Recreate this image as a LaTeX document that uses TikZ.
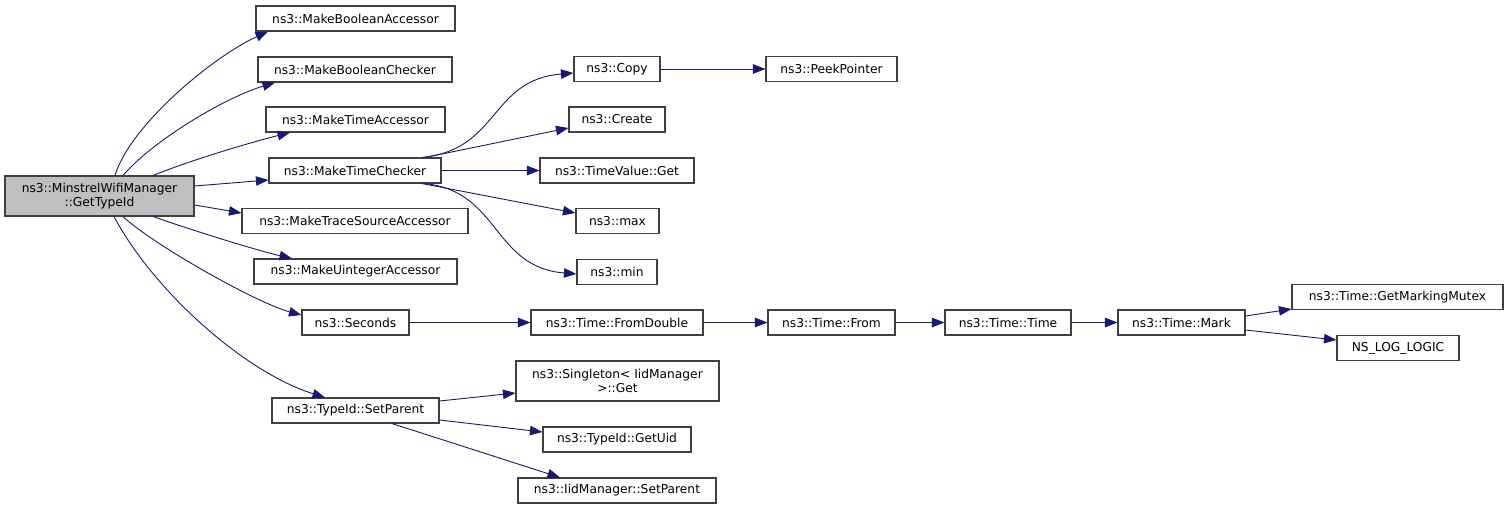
\documentclass[tikz,border=0pt]{standalone}
\usepackage{fontspec}
\setmainfont{DejaVu Sans}
\usetikzlibrary{arrows.meta}
\definecolor{EdgeBlue}{HTML}{191970}
\definecolor{RootGray}{HTML}{BFBFBF}
\definecolor{BoxLine}{HTML}{404040}

\begin{document}
\begin{tikzpicture}[x=1pt,y=-1pt,
  fnbox/.style={draw=BoxLine,line width=1.1pt,inner sep=0pt,minimum height=25pt,align=center,
    font=\fontsize{12.25}{14}\selectfont},
  call/.style={-{Triangle[length=12.5pt,width=9.5pt]},line width=0.9pt,draw=EdgeBlue}
]
\useasboundingbox (0,0) rectangle (1509,509);

% caller
\node[fnbox,fill=RootGray,minimum width=189pt,minimum height=40pt] (root) at (99.5,196) {ns3::MinstrelWifiManager\\::GetTypeId};

% first level
\node[fnbox,minimum width=199pt] (boolacc) at (355.5,18.5) {ns3::MakeBooleanAccessor};
\node[fnbox,minimum width=194pt] (boolchk) at (355,69.5) {ns3::MakeBooleanChecker};
\node[fnbox,minimum width=179pt] (timeacc) at (355.5,119.5) {ns3::MakeTimeAccessor};
\node[fnbox,minimum width=172pt] (timechk) at (355,170.5) {ns3::MakeTimeChecker};
\node[fnbox,minimum width=226pt] (traceacc) at (355,221) {ns3::MakeTraceSourceAccessor};
\node[fnbox,minimum width=203pt] (uintacc) at (355.5,271.5) {ns3::MakeUintegerAccessor};
\node[fnbox,minimum width=107pt] (seconds) at (355.5,322.5) {ns3::Seconds};
\node[fnbox,minimum width=167pt] (setparent) at (355.5,410.5) {ns3::TypeId::SetParent};

% second level
\node[fnbox,minimum width=86pt] (copy) at (617,69) {ns3::Copy};
\node[fnbox,minimum width=131pt] (peek) at (831.5,69) {ns3::PeekPointer};
\node[fnbox,minimum width=96pt] (create) at (617,119.5) {ns3::Create};
\node[fnbox,minimum width=154pt] (tvget) at (617,170.5) {ns3::TimeValue::Get};
\node[fnbox,minimum width=83pt] (max) at (617.5,221) {ns3::max};
\node[fnbox,minimum width=80pt] (min) at (617,272) {ns3::min};
\node[fnbox,minimum width=172pt] (fromdbl) at (617,322.5) {ns3::Time::FromDouble};
\node[fnbox,minimum width=127pt] (from) at (831.5,322.5) {ns3::Time::From};
\node[fnbox,minimum width=126pt] (timetime) at (1008,322.5) {ns3::Time::Time};
\node[fnbox,minimum width=127pt] (mark) at (1181.5,322.5) {ns3::Time::Mark};
\node[fnbox,minimum width=211pt] (mutex) at (1397.5,297) {ns3::Time::GetMarkingMutex};
\node[fnbox,minimum width=122pt] (nslog) at (1398,348) {NS\_LOG\_LOGIC};
\node[fnbox,minimum width=203pt,minimum height=40pt] (singleton) at (617.5,381) {ns3::Singleton< IidManager\\>::Get};
\node[fnbox,minimum width=148pt] (getuid) at (617,439.5) {ns3::TypeId::GetUid};
\node[fnbox,minimum width=198pt] (iidparent) at (617,490.5) {ns3::IidManager::SetParent};

% calls from GetTypeId
\draw[call] ([xshift=15.5pt]root.north) .. controls +(15,-50) and +(-55,25) .. ([xshift=-87.5pt]boolacc.south);
\draw[call] ([xshift=23.5pt]root.north) .. controls +(30,-35) and +(-50,15) .. ([xshift=-80pt]boolchk.south);
\draw[call] ([xshift=53.5pt]root.north) .. controls +(40,-16) and +(-40,10) .. ([xshift=-65.5pt]timeacc.south);
\draw[call] ([yshift=10pt]root.east) -- ([yshift=-9.5pt]timechk.west);
\draw[call] ([yshift=-9pt]root.east) -- ([yshift=8pt]traceacc.west);
\draw[call] ([xshift=53.5pt]root.south) .. controls +(40,14) and +(-35,-8) .. ([xshift=-63.5pt]uintacc.north);
\draw[call] ([xshift=23.5pt]root.south) .. controls +(30,28) and +(-45,-12) .. ([yshift=7.5pt]seconds.west);
\draw[call] ([xshift=14.5pt]root.south) .. controls +(40,75) and +(-80,-25) .. ([xshift=-30.5pt]setparent.north);

% calls from MakeTimeChecker
\draw[call] ([xshift=67pt]timechk.north) .. controls +(78,-8) and +(-84,7) .. ([yshift=-4pt]copy.west);
\draw[call] ([xshift=70pt]timechk.north) -- ([yshift=-8.5pt]create.west);
\draw[call] (timechk.east) -- (tvget.west);
\draw[call] ([xshift=67pt]timechk.south) -- ([yshift=8pt]max.west);
\draw[call] ([xshift=70pt]timechk.south) .. controls +(75,8) and +(-84,-7) .. ([yshift=-2pt]min.west);
\draw[call] (copy) -- (peek);

% Seconds chain
\draw[call] (seconds) -- (fromdbl);
\draw[call] (fromdbl) -- (from);
\draw[call] (from) -- (timetime);
\draw[call] (timetime) -- (mark);
\draw[call] ([yshift=6.5pt]mark.east) -- ([yshift=-12pt]mutex.west);
\draw[call] ([yshift=-7.5pt]mark.east) -- ([yshift=8pt]nslog.west);

% calls from SetParent
\draw[call] ([yshift=9.5pt]setparent.east) -- ([yshift=-12pt]singleton.west);
\draw[call] ([yshift=-9.5pt]setparent.east) -- ([yshift=7.5pt]getuid.west);
\draw[call] ([xshift=36.5pt]setparent.south) -- ([xshift=-57pt]iidparent.north);
\end{tikzpicture}
\end{document}
